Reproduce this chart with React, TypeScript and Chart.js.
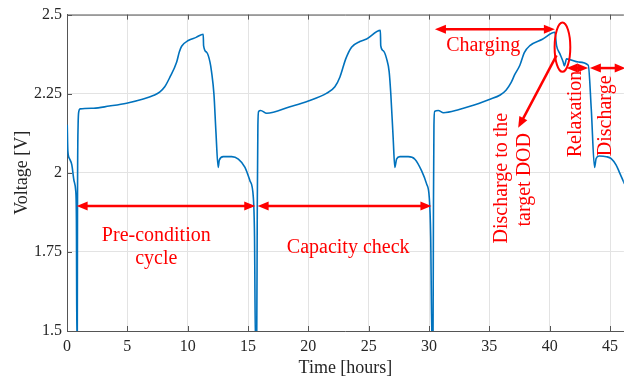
import React, { useEffect, useRef } from "react";
import { Chart, registerables } from "chart.js";

Chart.register(...registerables);

// ---- Data ----
const timeHours: number[] = [
  0.02, 0.07, 0.2, 0.4, 0.58, 0.72, 0.78, 0.82, 0.85, 0.87, 0.92, 0.98, 1.08, 2.2, 3.5, 4.94, 6.32, 7.2, 7.7, 8.1,
  8.5, 9.09, 9.3, 9.5, 10.05, 10.7, 11.29, 11.32, 11.57, 11.85, 11.98, 12.18, 12.34, 12.53, 12.62, 12.95, 13.65,
  14.2, 14.75, 15.16, 15.44, 15.54, 15.62, 15.72, 15.77, 15.82, 15.88, 16.05, 16.55, 18.48, 20, 21.5, 22.2, 22.62,
  23.1, 23.58, 24.27, 24.83, 25.97, 26.0, 26.2, 26.49, 26.7, 26.84, 27.03, 27.17, 27.31, 27.59, 28.28, 28.83,
  29.39, 29.8, 30.02, 30.14, 30.25, 30.33, 30.37, 30.41, 30.47, 30.77, 31.2, 32.5, 33.4, 35, 35.9, 36.4, 36.8,
  37.1, 37.53, 37.9, 38.36, 39.4, 40.43, 40.57, 40.85, 41.12, 41.22, 41.4, 42.4, 43.2, 43.45, 43.72, 43.85, 44.1,
  44.7, 45.1, 45.5, 45.8, 46.2,
];
const voltageV: number[] = [
  2.152, 2.07, 2.045, 2.025, 1.975, 1.944, 1.85, 1.45, 1.45, 1.9, 2.15, 2.194, 2.202, 2.204, 2.211, 2.22, 2.233,
  2.245, 2.256, 2.272, 2.3, 2.35, 2.381, 2.4, 2.418, 2.428, 2.438, 2.402, 2.381, 2.35, 2.319, 2.247, 2.131, 2.017,
  2.04, 2.051, 2.051, 2.043, 2.017, 1.975, 1.923, 1.8, 1.45, 1.45, 1.9, 2.15, 2.194, 2.197, 2.188, 2.209, 2.227,
  2.251, 2.272, 2.303, 2.36, 2.397, 2.415, 2.423, 2.45, 2.402, 2.386, 2.36, 2.319, 2.246, 2.11, 2.017, 2.043,
  2.051, 2.051, 2.043, 2.006, 1.965, 1.923, 1.8, 1.45, 1.45, 1.9, 2.15, 2.194, 2.197, 2.19, 2.2, 2.21, 2.232,
  2.246, 2.262, 2.285, 2.31, 2.34, 2.38, 2.402, 2.422, 2.444, 2.402, 2.376, 2.35, 2.338, 2.36, 2.35, 2.34, 2.2,
  2.017, 2.045, 2.053, 2.051, 2.045, 2.025, 2.0, 1.965,
];

const xTickValues = [0, 5, 10, 15, 20, 25, 30, 35, 40, 45];
const yTickValues = [1.5, 1.75, 2, 2.25, 2.5];
const xTickLabels = ["0", "5", "10", "15", "20", "25", "30", "35", "40", "45"];
const yTickLabels = ["1.5", "1.75", "2", "2.25", "2.5"];
const xTitle = "Time [hours]";
const yTitle = "Voltage [V]";

// ---- Annotations (in data coordinates) ----
const arrowStartX = [0.8, 15.8, 30.49, 41.4, 43.33, 40.57];
const arrowStartY = [1.895, 1.895, 2.454, 2.331, 2.331, 2.371];
const arrowEndX = [15.6, 30.2, 40.43, 43.19, 46.3, 37.39];
const arrowEndY = [1.895, 1.895, 2.454, 2.331, 2.331, 2.142];
const arrowBothHeads = [true, true, true, true, true, false];

const labelTexts = ["Pre-condition", "cycle", "Capacity check", "Charging", "Discharge to the", "target DOD", "Relaxation", "Discharge"];
const labelX = [7.4, 7.4, 23.3, 34.49, 35.99, 37.9, 42.2, 44.62];
const labelY = [1.785, 1.7125, 1.746, 2.386, 1.983, 1.978, 2.186, 2.18];
const labelRotated = [false, false, false, false, true, true, true, true];

const ellipseCenter = { x: 41.06, y: 2.397 };
const ellipseRadius = { x: 0.65, y: 0.078 };

const FONT = "'Liberation Serif', 'Times New Roman', serif";
const RED = "#ff0000";
const AXIS = "#555555";
const TEXT = "#262626";

function drawHead(ctx: CanvasRenderingContext2D, x: number, y: number, ang: number) {
  const L = 11;
  const W = 4.5;
  ctx.beginPath();
  ctx.moveTo(x, y);
  ctx.lineTo(x - L * Math.cos(ang) + W * Math.sin(ang), y - L * Math.sin(ang) - W * Math.cos(ang));
  ctx.lineTo(x - L * Math.cos(ang) - W * Math.sin(ang), y - L * Math.sin(ang) + W * Math.cos(ang));
  ctx.closePath();
  ctx.fill();
}

const framePlugin = {
  id: "frame",
  beforeDatasetsDraw(chart: any) {
    const { ctx, chartArea, scales } = chart;
    const xs = scales.x;
    const ys = scales.y;
    ctx.save();
    ctx.strokeStyle = AXIS;
    ctx.lineWidth = 1;
    ctx.beginPath();
    ctx.moveTo(chartArea.left, chartArea.top + 0.5);
    ctx.lineTo(chartArea.right, chartArea.top + 0.5);
    const t = 5;
    xTickValues.forEach((v) => {
      const px = Math.round(xs.getPixelForValue(v)) + 0.5;
      ctx.moveTo(px, chartArea.bottom);
      ctx.lineTo(px, chartArea.bottom - t);
      ctx.moveTo(px, chartArea.top);
      ctx.lineTo(px, chartArea.top + t);
    });
    yTickValues.forEach((v) => {
      const py = Math.round(ys.getPixelForValue(v)) + 0.5;
      ctx.moveTo(chartArea.left, py);
      ctx.lineTo(chartArea.left + t, py);
    });
    ctx.stroke();
    ctx.restore();
  },
};

const annotationPlugin = {
  id: "annotations",
  afterDatasetsDraw(chart: any) {
    const { ctx, scales } = chart;
    const xs = scales.x;
    const ys = scales.y;
    ctx.save();
    ctx.strokeStyle = RED;
    ctx.fillStyle = RED;
    ctx.lineWidth = 2.5;
    for (let i = 0; i < arrowStartX.length; i++) {
      const ax = xs.getPixelForValue(arrowStartX[i]);
      const ay = ys.getPixelForValue(arrowStartY[i]);
      const bx = xs.getPixelForValue(arrowEndX[i]);
      const by = ys.getPixelForValue(arrowEndY[i]);
      const ang = Math.atan2(by - ay, bx - ax);
      const inset = 8;
      const sx = arrowBothHeads[i] ? ax + inset * Math.cos(ang) : ax;
      const sy = arrowBothHeads[i] ? ay + inset * Math.sin(ang) : ay;
      ctx.beginPath();
      ctx.moveTo(sx, sy);
      ctx.lineTo(bx - inset * Math.cos(ang), by - inset * Math.sin(ang));
      ctx.stroke();
      drawHead(ctx, bx, by, ang);
      if (arrowBothHeads[i]) drawHead(ctx, ax, ay, ang + Math.PI);
    }
    // ellipse
    const cx = xs.getPixelForValue(ellipseCenter.x);
    const cy = ys.getPixelForValue(ellipseCenter.y);
    const rx = Math.abs(xs.getPixelForValue(ellipseCenter.x + ellipseRadius.x) - cx);
    const ry = Math.abs(ys.getPixelForValue(ellipseCenter.y + ellipseRadius.y) - cy);
    ctx.lineWidth = 2;
    ctx.beginPath();
    ctx.ellipse(cx, cy, rx, ry, 0, 0, Math.PI * 2);
    ctx.stroke();
    // labels
    ctx.font = `20px ${FONT}`;
    for (let i = 0; i < labelTexts.length; i++) {
      const px = xs.getPixelForValue(labelX[i]);
      const py = ys.getPixelForValue(labelY[i]);
      ctx.textAlign = "center";
      if (labelRotated[i]) {
        ctx.save();
        ctx.translate(px, py);
        ctx.rotate(-Math.PI / 2);
        ctx.textBaseline = "middle";
        ctx.fillText(labelTexts[i], 0, 0);
        ctx.restore();
      } else {
        ctx.textBaseline = "alphabetic";
        ctx.fillText(labelTexts[i], px, py);
      }
    }
    ctx.restore();
  },
};

export default function App() {
  const canvasRef = useRef<HTMLCanvasElement | null>(null);
  useEffect(() => {
    if (!canvasRef.current) return;
    const points = timeHours.map((t, i) => ({ x: t, y: voltageV[i] }));
    const chart = new Chart(canvasRef.current, {
      type: "line",
      data: {
        datasets: [
          {
            data: points,
            borderColor: "#0072bd",
            borderWidth: 1.6,
            pointRadius: 0,
            fill: false,
            cubicInterpolationMode: "monotone",
          },
        ],
      },
      options: {
        animation: false,
        responsive: false,
        events: [],
        layout: { padding: { top: 12, right: 0, left: 0, bottom: 0 } },
        plugins: { legend: { display: false }, tooltip: { enabled: false } },
        scales: {
          x: {
            type: "linear",
            min: 0,
            max: 46.15,
            afterBuildTicks: (s: any) => {
              s.ticks = xTickValues.map((v) => ({ value: v }));
            },
            afterFit: (s: any) => {
              s.height = 48;
            },
            ticks: {
              padding: 6,
              color: TEXT,
              font: { family: FONT, size: 16 },
              maxRotation: 0,
              autoSkip: false,
              callback: (v: any) => {
                const k = xTickValues.indexOf(Number(v));
                return k >= 0 ? xTickLabels[k] : "";
              },
            },
            grid: { color: "#e3e3e3", lineWidth: 1, drawTicks: false },
            border: { color: AXIS, width: 1 },
            title: {
              display: true,
              text: xTitle,
              color: TEXT,
              font: { family: FONT, size: 18 },
              padding: { top: 0, bottom: 0 },
            },
          },
          y: {
            type: "linear",
            min: 1.5,
            max: 2.5,
            afterBuildTicks: (s: any) => {
              s.ticks = yTickValues.map((v) => ({ value: v }));
            },
            afterFit: (s: any) => {
              s.width = 67;
            },
            ticks: {
              padding: 5,
              color: TEXT,
              font: { family: FONT, size: 16 },
              autoSkip: false,
              callback: (v: any) => {
                const k = yTickValues.indexOf(Number(v));
                return k >= 0 ? yTickLabels[k] : "";
              },
            },
            grid: { color: "#e3e3e3", lineWidth: 1, drawTicks: false },
            border: { color: AXIS, width: 1 },
            title: {
              display: true,
              text: yTitle,
              color: TEXT,
              font: { family: FONT, size: 18 },
              padding: { top: 11, bottom: 0 },
            },
          },
        },
      },
      plugins: [framePlugin, annotationPlugin],
    } as any);
    return () => chart.destroy();
  }, []);

  return (
    <div style={{ position: "absolute", left: 0, top: 0, width: 624, height: 379, background: "#fff" }}>
      <canvas ref={canvasRef} width={624} height={379} style={{ display: "block" }} />
    </div>
  );
}
